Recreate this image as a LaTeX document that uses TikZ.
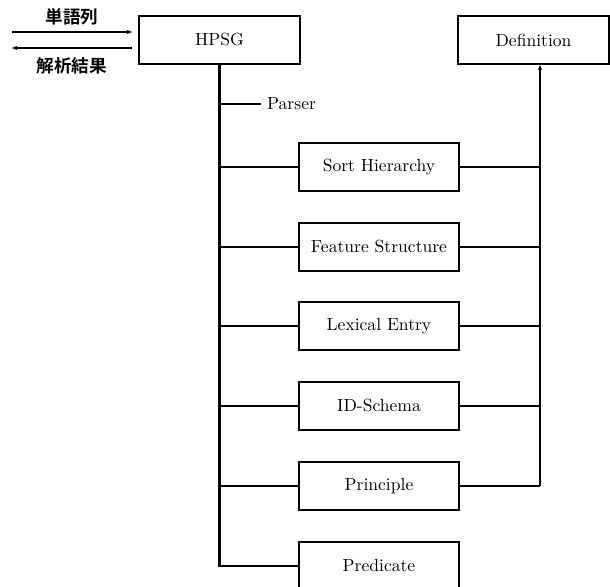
\documentclass[tikz,border=0pt]{standalone}
\usepackage{fontspec}
\usepackage{tikz}
\usetikzlibrary{arrows.meta}
\newfontfamily\cjk{Noto Sans CJK JP Bold}

\begin{document}
\begin{tikzpicture}[x=0.02cm,y=-0.02cm,>={Stealth[length=3pt,width=2.4pt]},
		module/.style={shape=rectangle, draw=black, line width=0.9pt, minimum width=3.2cm, minimum height=0.96cm, inner sep=0pt},
		trunk/.style={line width=1.2pt},
		weak/.style={line width=0.6pt}]
				\useasboundingbox (0,0) rectangle (610,587);
				% top level
				\node[module, line width=1.1pt, minimum width=3.22cm] (hpsg) at (219.5,40) {HPSG};
				\node[module, line width=1.1pt, minimum width=3.02cm] (def) at (533.5,40) {Definition};
				% parts of the grammar
				\node[module] (sort) at (379,167) {Sort Hierarchy};
				\node[module] (feat) at (379,247) {Feature Structure};
				\node[module] (lex) at (379,326) {Lexical Entry};
				\node[module] (ids) at (379,406) {ID-Schema};
				\node[module] (prin) at (379,486) {Principle};
				\node[module] (pred) at (379,566) {Predicate};
				\node[anchor=west] (parser) at (261,104) {Parser};
				% input and output
				\coordinate (inl) at (12,32);
				\coordinate (inr) at (132,32);
				\coordinate (outl) at (12,48);
				\coordinate (outr) at (132,48);
				\path[trunk,->] (inl) edge node[above] {\cjk 単語列} (inr);
				\path[trunk,->] (outr) edge node[below=1.5pt] {\cjk 解析結果} (outl);
				% trunk lines
				\coordinate (rt) at (540,486);
				\draw[trunk] (hpsg.south) -- (pred.west -| hpsg.south) -- (pred.west);
				\draw[trunk] (parser.west -| hpsg.south) -- (parser.west);
				\foreach \m in {sort,feat,lex,prin} {
					\draw[trunk] (\m.west -| hpsg.south) -- (\m.west);
					\draw[trunk] (\m.east) -- (\m.east -| rt);
				}
				\draw[weak] (ids.west -| hpsg.south) -- (ids.west);
				\draw[weak] (ids.east) -- (ids.east -| rt);
				\draw[trunk,->] (rt) -- (def.south -| rt);
			\end{tikzpicture}
\end{document}
